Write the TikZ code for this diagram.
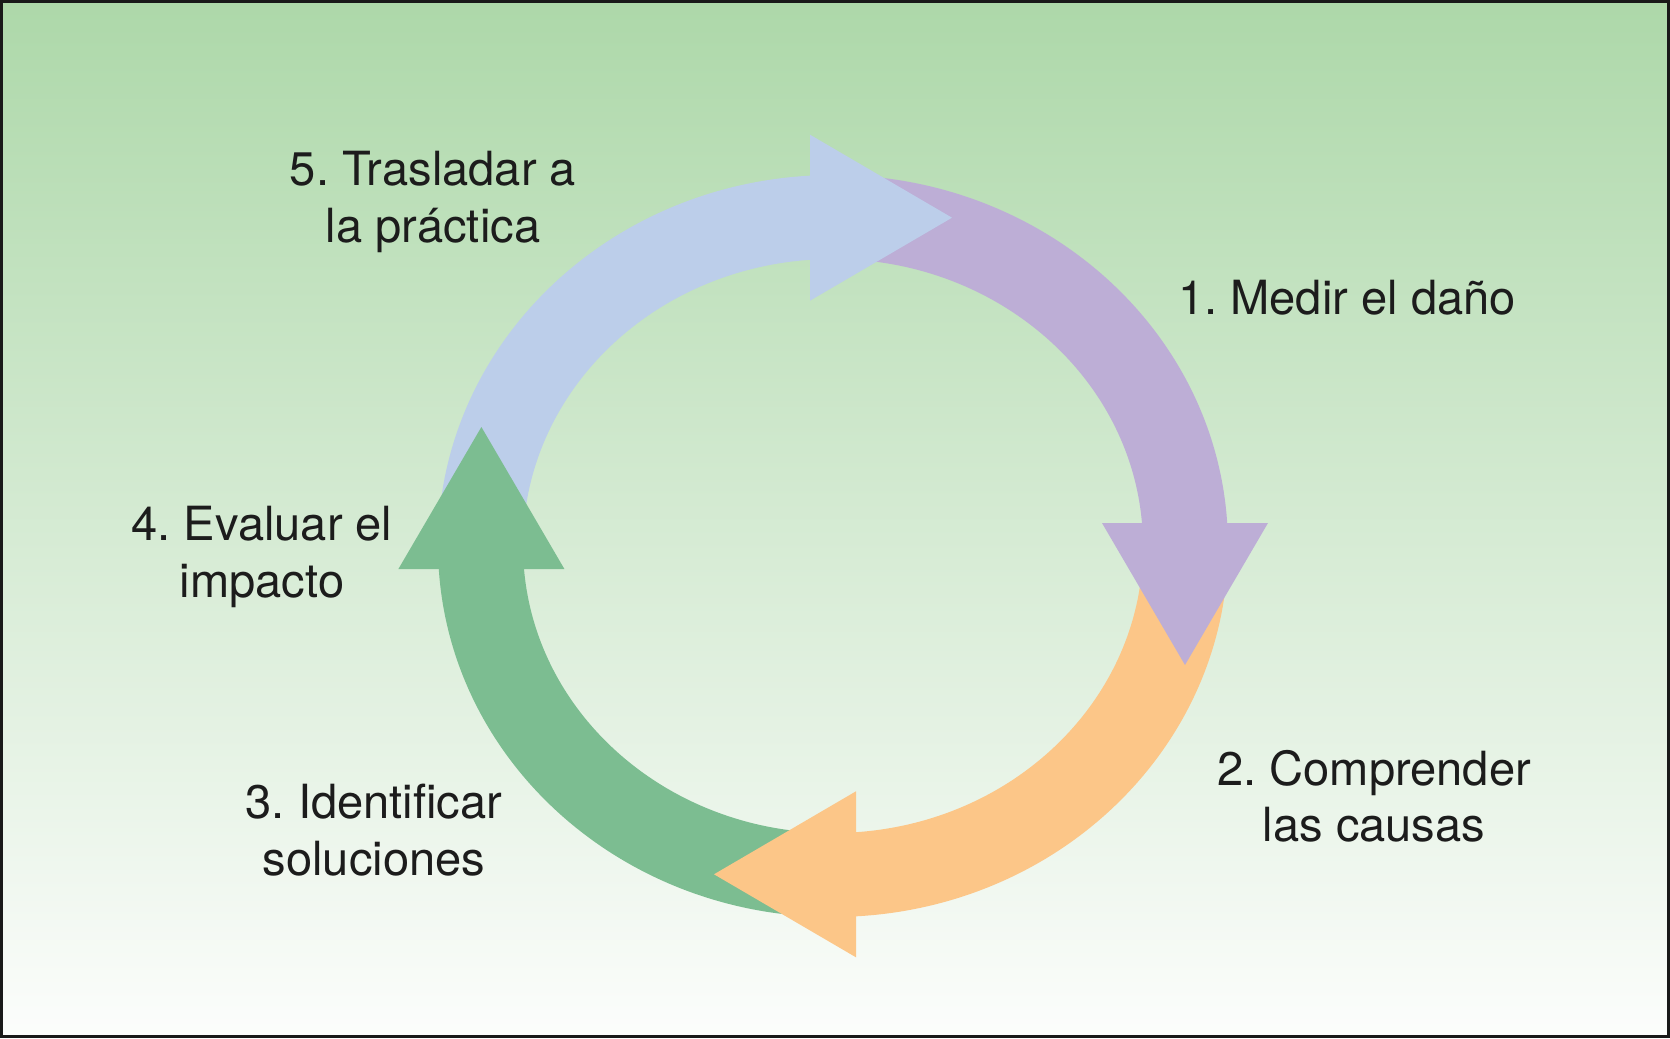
\documentclass[tikz,border=0pt]{standalone}
\usepackage{fontspec}
\setmainfont{TeX Gyre Heros}
\frenchspacing
\definecolor{bgtop}{RGB}{173,216,169}
\definecolor{bgmid}{RGB}{212,234,209}
\definecolor{bgbot}{RGB}{252,253,252}
\definecolor{purp}{RGB}{189,174,214}
\definecolor{oran}{RGB}{252,198,136}
\definecolor{grn}{RGB}{124,189,145}
\definecolor{blu}{RGB}{188,206,234}
\definecolor{txt}{RGB}{28,28,28}
\tikzset{
  lbl/.style={align=center,text=txt,inner sep=0pt,font=\fontsize{13.4}{16}\selectfont}
}

\begin{document}
\begin{tikzpicture}
    \useasboundingbox(0,0)rectangle(16.70,10.38);
    \shade[top color=bgtop,middle color=bgmid,bottom color=bgbot](0,0)rectangle(16.70,10.38);
    \draw[line width=0.03cm,black!90](0.015,0.015)rectangle(16.685,10.365);
    \coordinate(ctr)at(8.33,4.92);
    % bands of the cycle
    \fill[blu](4.38,4.92)arc[start angle=180,end angle=93.338,x radius=3.95,y radius=3.71]--(8.10,7.782)arc[start angle=94.255,end angle=180,x radius=3.10,y radius=2.87]--cycle;
    \fill[purp](8.33,8.63)arc[start angle=90,end angle=3.554,x radius=3.95,y radius=3.71]--(11.420,5.15)arc[start angle=4.597,end angle=90,x radius=3.10,y radius=2.87]--cycle;
    \fill[oran](12.28,4.92)arc[start angle=0,end angle=-86.662,x radius=3.95,y radius=3.71]--(8.56,2.058)arc[start angle=-85.745,end angle=0,x radius=3.10,y radius=2.87]--cycle;
    \fill[grn](8.33,1.21)arc[start angle=270,end angle=183.554,x radius=3.95,y radius=3.71]--(5.24,4.69)arc[start angle=184.597,end angle=270,x radius=3.10,y radius=2.87]--cycle;
    % heads
    \fill[blu](8.10,9.033)--(8.10,7.373)--(9.52,8.203)--cycle;
    \fill[purp](11.02,5.15)--(12.68,5.15)--(11.85,3.73)--cycle;
    \fill[oran](8.56,2.467)--(8.56,0.807)--(7.14,1.637)--cycle;
    \fill[grn](3.984,4.69)--(5.644,4.69)--(4.814,6.11)--cycle;
    % labels
    \node[lbl](medir)at(13.47,7.40){1. Medir el daño};
    \node[lbl](comprender)at(13.74,2.42){2. Comprender\\las causas};
    \node[lbl](identificar)at(3.74,2.08){3. Identificar\\soluciones};
    \node[lbl](evaluar)at(2.62,4.81){4. Evaluar el\\impacto};
    \node[lbl](trasladar)at(4.33,8.36){5. Trasladar a\\la práctica};
\end{tikzpicture}
\end{document}
